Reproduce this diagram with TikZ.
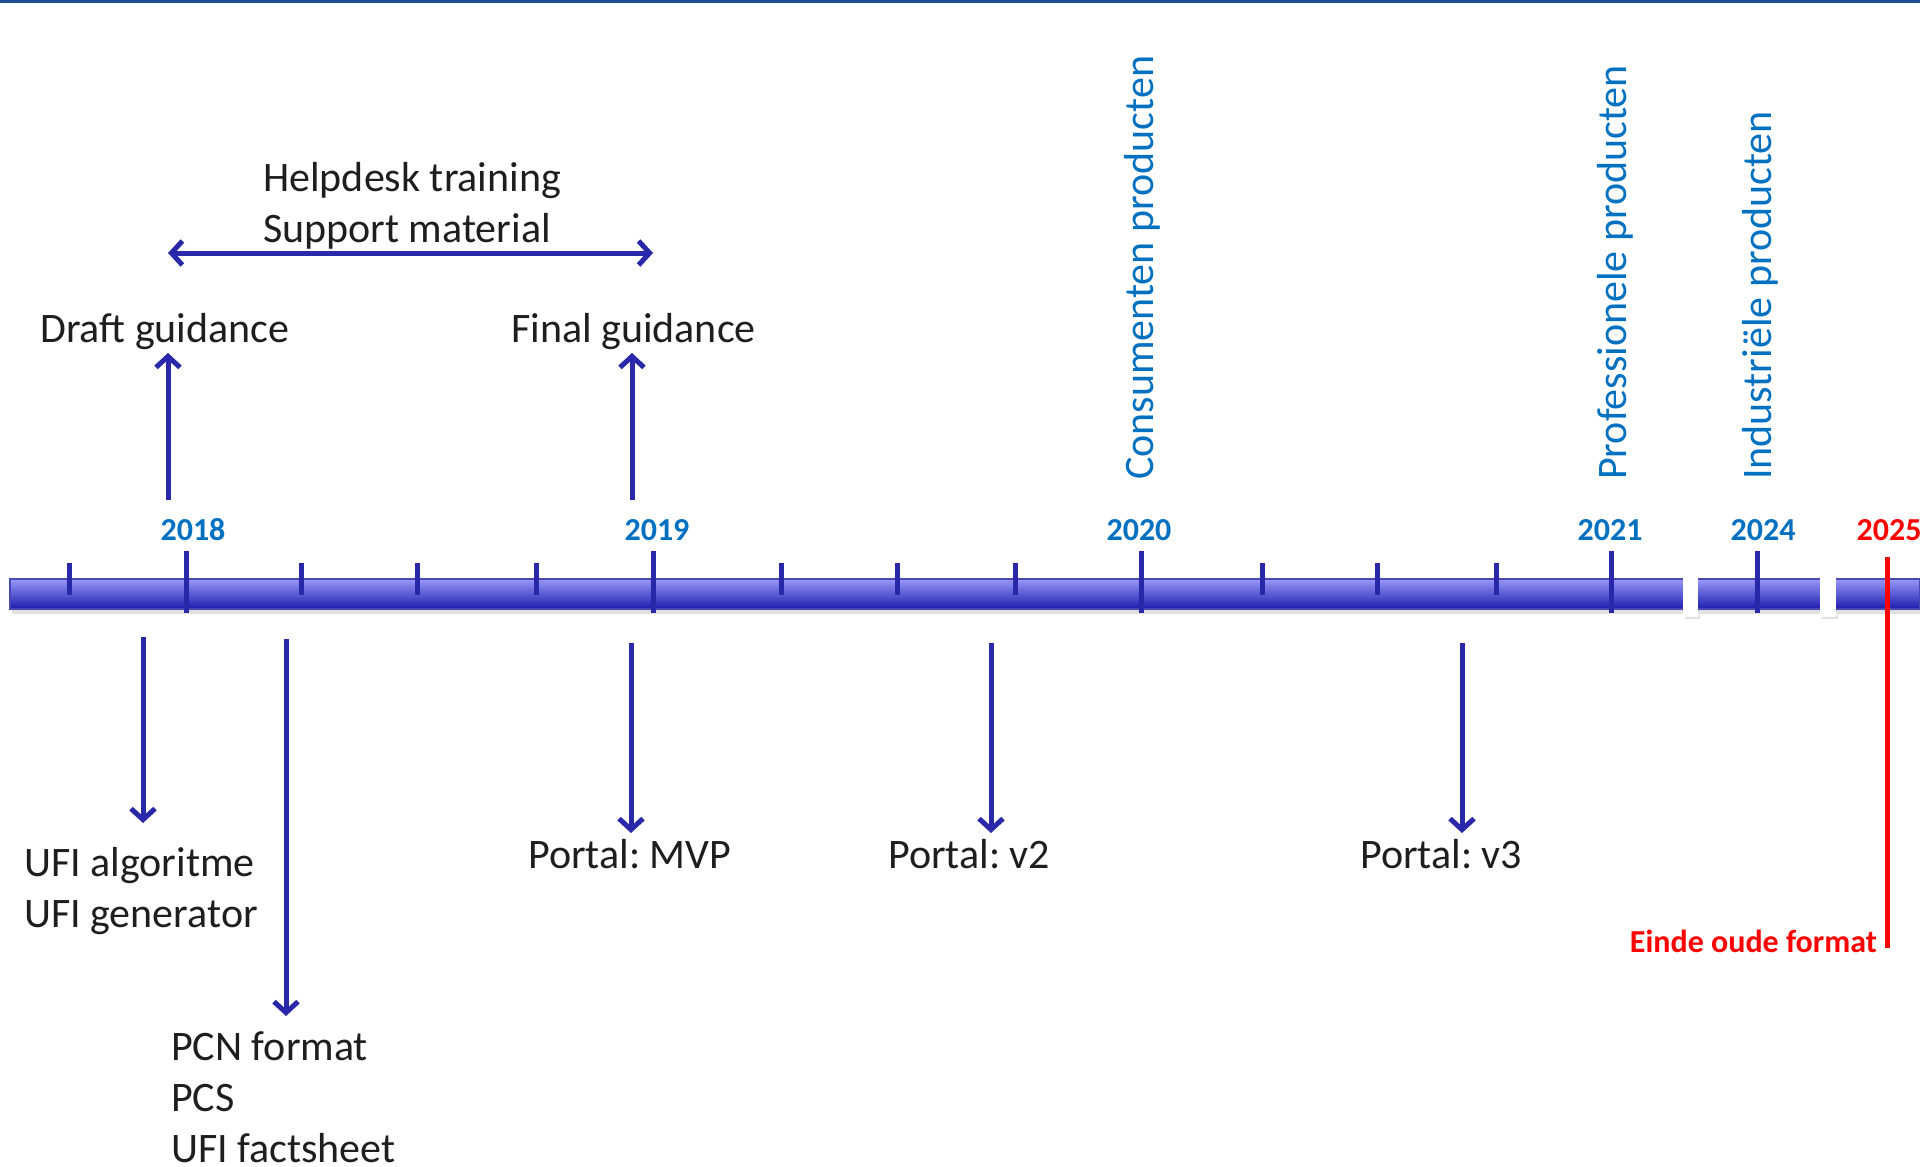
\documentclass[tikz,border=0pt]{standalone}
\usepackage{fontspec}
\setmainfont{Carlito}
\usetikzlibrary{arrows.meta}
\definecolor{navy}{RGB}{40,40,168}
\definecolor{yearblue}{RGB}{0,112,192}
\definecolor{topline}{RGB}{30,78,150}
\definecolor{barlight}{RGB}{152,152,250}
\definecolor{barmid}{RGB}{120,120,232}
\definecolor{bardark}{RGB}{28,28,172}
\definecolor{inktext}{RGB}{30,30,30}
\definecolor{endred}{RGB}{255,0,0}
\frenchspacing

\begin{document}
\begin{tikzpicture}[x=1pt,y=-1pt,
  txt/.style={font=\fontsize{42}{51}\selectfont, text=inktext, inner sep=0, anchor=base west, align=left},
  year/.style={font=\fontsize{32}{36}\selectfont\bfseries, text=yearblue, inner sep=0, anchor=base},
  vlabel/.style={font=\fontsize{42}{51}\selectfont, text=yearblue, rotate=90, anchor=west, inner sep=0},
  conn/.style={draw=navy, line width=5pt, -{Straight Barb[length=11pt,width=24pt]}},
  twoway/.style={draw=navy, line width=5pt, {Straight Barb[length=11pt,width=24pt]}-{Straight Barb[length=11pt,width=24pt]}},
  minortick/.style={draw=navy, line width=5pt},
  majortick/.style={draw=navy, line width=5pt},
  gapbox/.style={fill=white, draw=none},
]
\useasboundingbox (0,0) rectangle (1920,1167);

% rule along the top edge
\fill[topline] (0,0) rectangle (1920,3);

% timeline bar with soft shadow
\fill[black!12] (12,608) rectangle (1920,614);
\shade[top color=barlight, middle color=barmid, bottom color=bardark] (10,579) rectangle (1920,609);
\draw[navy!85, line width=1.5pt] (10,579) rectangle (1920,609);

% breaks in the bar
\fill[black!12] (1685,615) rectangle (1700,619);
\fill[black!12] (1822,615) rectangle (1838,619);
\fill[gapbox] (1683,576) rectangle (1698,617);
\fill[gapbox] (1820,576) rectangle (1836,617);

% minor ticks
\foreach \tx in {69,301,417,536,781,897,1015,1262,1377,1496}
  \draw[minortick] (\tx,563) -- (\tx,595);
% major ticks
\foreach \tx in {186,653,1141,1611,1757}
  \draw[majortick] (\tx,551) -- (\tx,613);

% year labels
\node[year] (y2018) at (193,540) {2018};
\node[year] (y2019) at (657,540) {2019};
\node[year] (y2020) at (1139,540) {2020};
\node[year] (y2021) at (1610,540) {2021};
\node[year] (y2024) at (1763,540) {2024};
\node[year, text=endred] (y2025) at (1889,540) {2025};

% end of the old format
\coordinate (redtop) at (1887,557);
\coordinate (redbot) at (1887,948);
\draw[endred, line width=5pt] (redtop) -- (redbot);
\node[font=\fontsize{32}{36}\selectfont\bfseries, text=endred, inner sep=0, anchor=base east] (einde) at (1877,952) {Einde oude format};

% product groups
\node[vlabel] (consument) at (1142,480) {Consumenten producten};
\node[vlabel] (professioneel) at (1615,480) {Professionele producten};
\node[vlabel] (industrieel) at (1760,480) {Industriële producten};

% guidance and support above the bar (base anchor sits on the last line)
\node[txt] (helpdesk) at (263,242) {Helpdesk training\\Support material};
\coordinate (spanL) at (168,253);
\coordinate (spanR) at (653,253);
\draw[twoway] (spanL) -- (spanR);

\node[txt] (draft) at (40,342) {Draft guidance};
\node[txt] (final) at (511,342) {Final guidance};
\coordinate (draftfoot) at (168,500);
\coordinate (drafttip) at (168,353);
\coordinate (finalfoot) at (632,500);
\coordinate (finaltip) at (632,353);
\draw[conn] (draftfoot) -- (drafttip);
\draw[conn] (finalfoot) -- (finaltip);

% deliverables below the bar
\node[txt] (ufi) at (24,927) {UFI algoritme\\UFI generator};
\node[txt] (pcn) at (171,1162) {PCN format\\PCS\\UFI factsheet};
\node[txt] (mvp) at (528,868) {Portal: MVP};
\node[txt] (v2) at (888,868) {Portal: v2};
\node[txt] (v3) at (1360,868) {Portal: v3};

\coordinate (ufitop) at (143,637);
\coordinate (ufitip) at (143,823);
\coordinate (pcntop) at (286,639);
\coordinate (pcntip) at (286,1016);
\coordinate (mvptop) at (631,643);
\coordinate (mvptip) at (631,833);
\coordinate (v2top) at (991,643);
\coordinate (v2tip) at (991,833);
\coordinate (v3top) at (1462,643);
\coordinate (v3tip) at (1462,833);
\draw[conn] (ufitop) -- (ufitip);
\draw[conn] (pcntop) -- (pcntip);
\draw[conn] (mvptop) -- (mvptip);
\draw[conn] (v2top) -- (v2tip);
\draw[conn] (v3top) -- (v3tip);
\end{tikzpicture}
\end{document}
